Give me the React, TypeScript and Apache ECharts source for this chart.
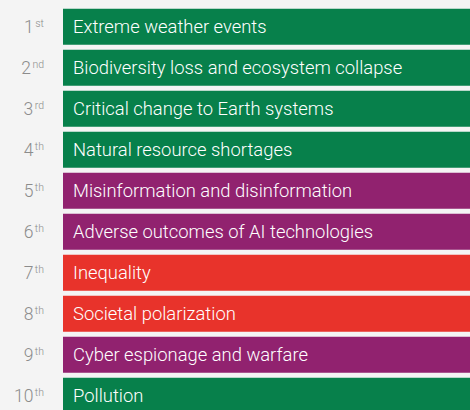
import React, { useEffect, useRef } from "react";
import * as echarts from "echarts";

const rankNumbers = ["1", "2", "3", "4", "5", "6", "7", "8", "9", "10"];
const rankSuffixes = ["st", "nd", "rd", "th", "th", "th", "th", "th", "th", "th"];
const risks = [
  "Extreme weather events",
  "Biodiversity loss and ecosystem collapse",
  "Critical change to Earth systems",
  "Natural resource shortages",
  "Misinformation and disinformation",
  "Adverse outcomes of AI technologies",
  "Inequality",
  "Societal polarization",
  "Cyber espionage and warfare",
  "Pollution",
];
const riskTypes = [
  "Environmental",
  "Environmental",
  "Environmental",
  "Environmental",
  "Technological",
  "Technological",
  "Societal",
  "Societal",
  "Technological",
  "Environmental",
];
const barValues = [1, 1, 1, 1, 1, 1, 1, 1, 1, 1];

const typeColors: Record<string, string> = {
  Environmental: "#07804b",
  Technological: "#91226f",
  Societal: "#e8332b",
};

export default function App() {
  const ref = useRef<HTMLDivElement>(null);
  useEffect(() => {
    if (!ref.current) return;
    const chart = echarts.init(ref.current, undefined, { renderer: "svg" });
    const font = "Roboto, 'Liberation Sans', Arial, sans-serif";
    chart.setOption({
      animation: false,
      backgroundColor: "#f4f4f4",
      grid: { left: 63, right: 0, top: 6.3, height: 410 },
      xAxis: { type: "value", min: 0, max: 1, show: false },
      yAxis: {
        type: "category",
        inverse: true,
        data: risks,
        axisLine: { show: false },
        axisTick: { show: false },
        splitLine: { show: false },
        axisLabel: {
          margin: 19,
          formatter: (_v: string, i: number) =>
            `{n|${rankNumbers[i]}}{s|${rankSuffixes[i]}}`,
          rich: {
            n: {
              fontFamily: font,
              fontWeight: 300,
              fontSize: 17.5,
              color: "#8c8c8c",
              lineHeight: 18,
            },
            s: {
              fontFamily: font,
              fontWeight: 300,
              fontSize: 10.5,
              color: "#8c8c8c",
              lineHeight: 10,
              verticalAlign: "top",
              padding: [0, 0, 0, 1.5],
            },
          },
        },
      },
      series: [
        {
          type: "bar",
          barWidth: 36,
          data: barValues.map((v, i) => ({
            value: v,
            itemStyle: { color: typeColors[riskTypes[i]] },
          })),
          label: {
            show: true,
            position: "insideLeft",
            distance: 10,
            formatter: "{b}",
            color: "#ffffff",
            fontFamily: font,
            fontWeight: 300,
            fontSize: 18.4,
          },
        },
      ],
    });
    return () => chart.dispose();
  }, []);
  return (
    <div
      style={{
        position: "fixed",
        left: 0,
        top: 0,
        width: 470,
        height: 410,
        overflow: "hidden",
      }}
    >
      <div ref={ref} style={{ width: 470, height: 420 }} />
    </div>
  );
}
